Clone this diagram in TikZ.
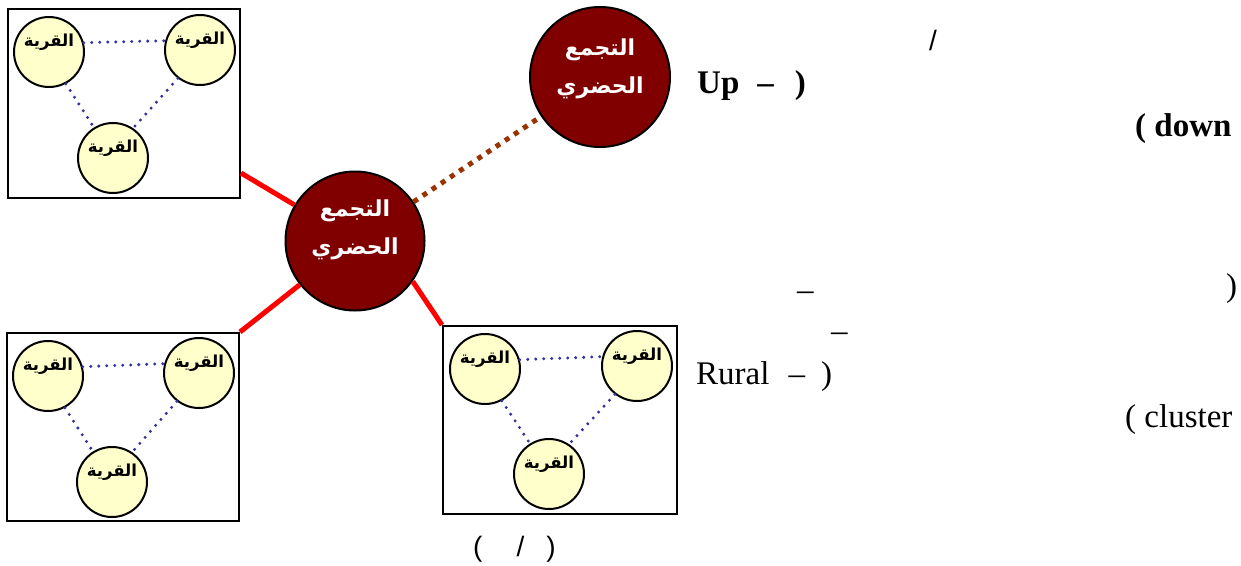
\documentclass[tikz,border=0pt]{standalone}
\usepackage{fontspec}
\setmainfont{Liberation Serif}
\newfontfamily\arabicfont[Script=Arabic]{DejaVu Sans}
\newfontfamily\labelsans{Liberation Sans}
\TeXXeTstate=1
\definecolor{villfill}{RGB}{255,255,204}
\definecolor{hubfill}{RGB}{128,0,0}
\definecolor{dotblue}{RGB}{51,51,153}
\definecolor{brownline}{RGB}{153,51,0}
\newcommand\village[2]{%
  \node[vill] (#1) at (#2) {};
  \node[villtxt] (#1t) at ([yshift=10pt]#1.center) {\beginR القرية\endR};}
\begin{document}
\begin{tikzpicture}[x=1pt,y=-1pt,
  vill/.style={circle,draw=black,line width=2pt,fill=villfill,minimum size=70pt,inner sep=0pt},
  villtxt/.style={inner sep=0pt,font=\arabicfont\bfseries\fontsize{16.5}{20}\selectfont},
  hub/.style={circle,draw=black,line width=2pt,fill=hubfill,minimum size=139pt,inner sep=0pt},
  hubtxt/.style={inner sep=0pt,text=white,align=center,font=\arabicfont\bfseries\fontsize{22}{38}\selectfont},
  frame/.style={draw=black,line width=2pt,inner sep=0pt},
  vlink/.style={draw=dotblue,line width=3.3pt,line cap=round,dash pattern=on 0pt off 8pt},
  redlink/.style={draw=red,line width=5pt},
  brownlink/.style={draw=brownline,line width=5pt,dash pattern=on 5pt off 6pt},
  lbl/.style={inner sep=0pt,anchor=base west,font=\fontsize{33}{40}\selectfont},
  lblb/.style={inner sep=0pt,anchor=base west,font=\bfseries\fontsize{33}{40}\selectfont},
  lbls/.style={inner sep=0pt,anchor=base west,font=\labelsans\fontsize{28}{34}\selectfont},
]
\useasboundingbox (0,0) rectangle (1241,565);
\fill[white] (0,0) rectangle (1241,565);

% frames
\node[frame,minimum width=232pt,minimum height=189pt] (boxA) at (124,103.5) {};
\node[frame,minimum width=232pt,minimum height=188pt] (boxB) at (123,427) {};
\node[frame,minimum width=234pt,minimum height=188pt] (boxC) at (560,420) {};

% villages
\village{A1}{49,52}
\village{A2}{200,50}
\village{A3}{113,158}
\village{B1}{48,376}
\village{B2}{199,373}
\village{B3}{112,482}
\village{C1}{485,369}
\village{C2}{637,366}
\village{C3}{549,474}

\foreach \g in {A,B,C}{
  \draw[vlink] (\g1.15) -- (\g2.165);
  \draw[vlink] (\g1.-62) -- (\g3.122);
  \draw[vlink] (\g2.-128) -- (\g3.56);
}

% hubs
\node[hub] (hub1) at (355,241) {};
\node[hubtxt] (hub1t) at ([yshift=11pt]hub1.center) {\beginR التجمع\endR\\\beginR الحضري\endR};
\node[hub,minimum size=140pt] (hub2) at (600,77) {};
\node[hubtxt] (hub2t) at ([yshift=8pt]hub2.center) {\beginR التجمع\endR\\\beginR الحضري\endR};

% connectors
\coordinate (ra) at ([yshift=26pt]boxA.south east);
\draw[redlink] (ra) -- (hub1);
\draw[redlink] (boxB.north east) -- (hub1);
\draw[redlink] (hub1.-35) -- (boxC.north west);
\draw[brownlink] (hub1) -- (hub2);

% labels
\node[lbls] (slash1) at (929,50) {/};
\node[lblb] (up) at (697,93) {Up\hspace{18pt}–\hspace{21pt})};
\node[lblb] (down) at (1135,136) {( down};
\node[lbl] (dash1) at (797,300) {–};
\node[lbl] (paren1) at (1226,296) {)};
\node[lbl] (dash2) at (831,341) {–};
\node[lbl] (rural) at (696,384) {Rural\hspace{19pt}–\hspace{16pt})};
\node[lbl] (cluster) at (1125,427) {( cluster};
\node[lbls] (slash2) at (473,556) {(\hspace{34pt}/\hspace{22pt})};
\end{tikzpicture}
\end{document}
